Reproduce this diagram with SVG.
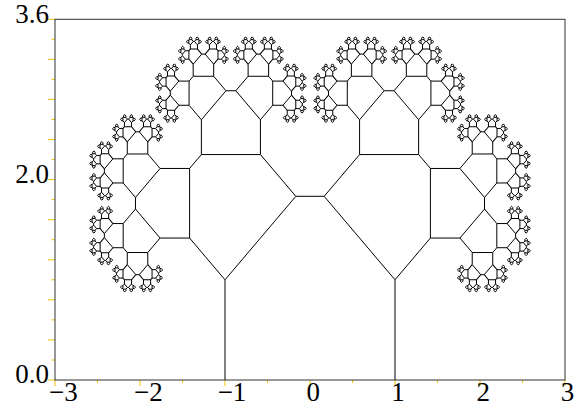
<svg xmlns="http://www.w3.org/2000/svg" width="574" height="410" viewBox="0 0 574 410">
<style>
.t{fill:none;stroke:#000;stroke-width:1;vector-effect:non-scaling-stroke}
.tk{fill:none;stroke:#f2c400;stroke-width:1}
.fr{fill:none;stroke:#333;stroke-width:1}
.lb{font-family:"Liberation Serif","Times New Roman",serif;font-size:27px;fill:#000}
</style>
<defs>
<path id="c0" class="t" d="M-1,0V1L-0.1666667,1.8333333H0.1666667L1,1V0"/>
<g id="c1"><use href="#c0"/><use href="#c0" transform="matrix(0.4166667,0.4166667,-0.4166667,0.4166667,-0.5833333,1.4166667)"/><use href="#c0" transform="matrix(0.4166667,-0.4166667,0.4166667,0.4166667,0.5833333,1.4166667)"/></g>
<g id="c2"><use href="#c0"/><use href="#c1" transform="matrix(0.4166667,0.4166667,-0.4166667,0.4166667,-0.5833333,1.4166667)"/><use href="#c1" transform="matrix(0.4166667,-0.4166667,0.4166667,0.4166667,0.5833333,1.4166667)"/></g>
<g id="c3"><use href="#c0"/><use href="#c2" transform="matrix(0.4166667,0.4166667,-0.4166667,0.4166667,-0.5833333,1.4166667)"/><use href="#c2" transform="matrix(0.4166667,-0.4166667,0.4166667,0.4166667,0.5833333,1.4166667)"/></g>
<g id="c4"><use href="#c0"/><use href="#c3" transform="matrix(0.4166667,0.4166667,-0.4166667,0.4166667,-0.5833333,1.4166667)"/><use href="#c3" transform="matrix(0.4166667,-0.4166667,0.4166667,0.4166667,0.5833333,1.4166667)"/></g>
<g id="c5"><use href="#c0"/><use href="#c4" transform="matrix(0.4166667,0.4166667,-0.4166667,0.4166667,-0.5833333,1.4166667)"/><use href="#c4" transform="matrix(0.4166667,-0.4166667,0.4166667,0.4166667,0.5833333,1.4166667)"/></g>
<g id="c6"><use href="#c0"/><use href="#c5" transform="matrix(0.4166667,0.4166667,-0.4166667,0.4166667,-0.5833333,1.4166667)"/><use href="#c5" transform="matrix(0.4166667,-0.4166667,0.4166667,0.4166667,0.5833333,1.4166667)"/></g>
<g id="c7"><use href="#c0"/><use href="#c6" transform="matrix(0.4166667,0.4166667,-0.4166667,0.4166667,-0.5833333,1.4166667)"/><use href="#c6" transform="matrix(0.4166667,-0.4166667,0.4166667,0.4166667,0.5833333,1.4166667)"/></g>
<g id="c8"><use href="#c0"/><use href="#c7" transform="matrix(0.4166667,0.4166667,-0.4166667,0.4166667,-0.5833333,1.4166667)"/><use href="#c7" transform="matrix(0.4166667,-0.4166667,0.4166667,0.4166667,0.5833333,1.4166667)"/></g>
</defs>
<rect width="574" height="410" fill="#fff"/>
<g id="ticks">
<path class="tk" d="M48,380H55M48,339.9H55M48,299.8H55M48,259.8H55M48,219.7H55M48,179.6H55M48,139.5H55M48,99.4H55M48,59.4H55M48,19.3H55"/>
<path class="tk" d="M51.5,360H55M51.5,319.9H55M51.5,279.8H55M51.5,239.7H55M51.5,199.6H55M51.5,159.6H55M51.5,119.5H55M51.5,79.4H55M51.5,39.3H55"/>
<path class="tk" d="M55,380V386M140,380V386M225,380V386M310,380V386M395,380V386M480,380V386M565,380V386"/>
<path class="tk" d="M97.5,380V383M182.5,380V383M267.5,380V383M352.5,380V383M437.5,380V383M522.5,380V383"/>
</g>
<g id="tree" transform="matrix(85,0,0,-100.2,310,380)"><use href="#c8"/></g>
<rect class="fr" x="55" y="19.3" width="510" height="360.7"/>
<g id="labels" class="lb">
<text x="49" y="22.8" text-anchor="end">3.6</text>
<text x="49" y="182.9" text-anchor="end">2.0</text>
<text x="49" y="383.2" text-anchor="end">0.0</text>
<text x="63.3" y="401" text-anchor="middle">−3</text>
<text x="148.3" y="401" text-anchor="middle">−2</text>
<text x="232" y="401" text-anchor="middle">−1</text>
<text x="313.3" y="401" text-anchor="middle">0</text>
<text x="398" y="401" text-anchor="middle">1</text>
<text x="483.3" y="401" text-anchor="middle">2</text>
<text x="567.5" y="401" text-anchor="middle">3</text>
</g>
</svg>
